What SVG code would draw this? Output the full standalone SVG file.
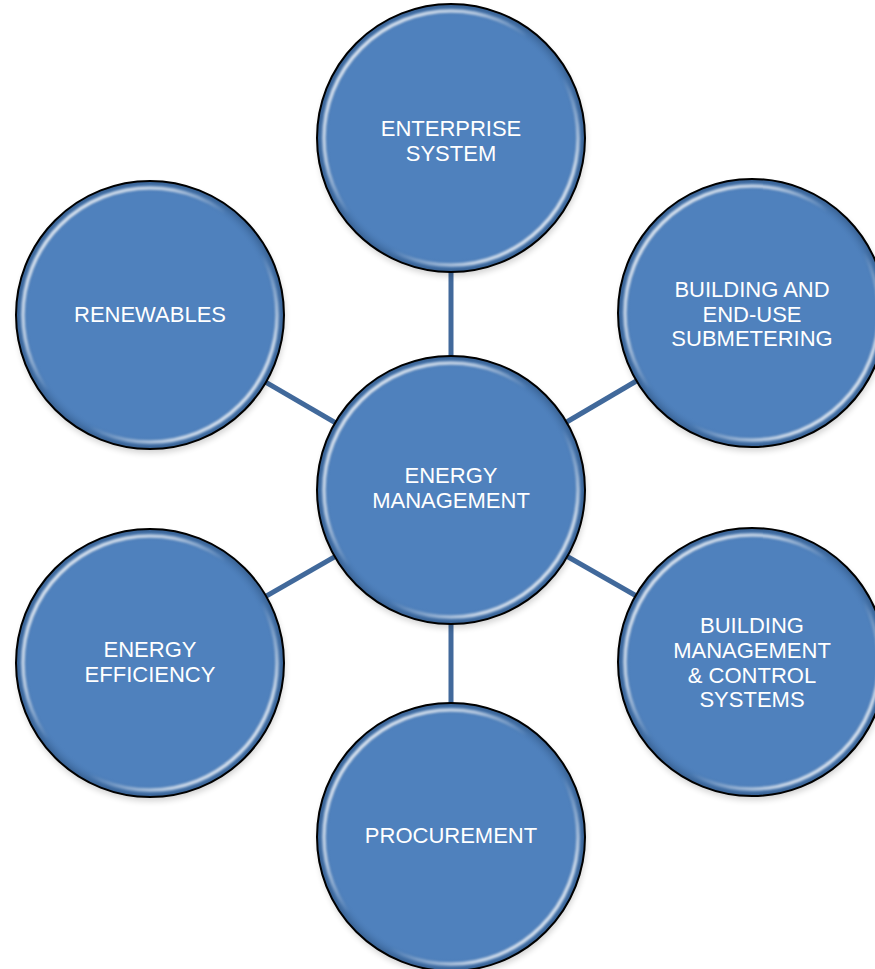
<svg xmlns="http://www.w3.org/2000/svg" width="875" height="969" viewBox="0 0 875 969">
<defs>
<linearGradient id="hl" x1="0" y1="0" x2="1" y2="1">
<stop offset="0" stop-color="#ffffff" stop-opacity="0.95"/>
<stop offset="0.3" stop-color="#ffffff" stop-opacity="0.6"/>
<stop offset="0.45" stop-color="#ffffff" stop-opacity="0"/>
<stop offset="0.6" stop-color="#ffffff" stop-opacity="0"/>
<stop offset="0.8" stop-color="#ffffff" stop-opacity="0.7"/>
<stop offset="1" stop-color="#ffffff" stop-opacity="0.95"/>
</linearGradient>
<radialGradient id="edge" cx="0.5" cy="0.5" r="0.5">
<stop offset="0.9" stop-color="#4f81bd" stop-opacity="0"/>
<stop offset="1" stop-color="#1f3f66" stop-opacity="0.55"/>
</radialGradient>
<filter id="soft" x="-10%" y="-10%" width="120%" height="120%">
<feGaussianBlur stdDeviation="1.3"/>
</filter>
<filter id="shadow" x="-10%" y="-10%" width="120%" height="125%">
<feGaussianBlur stdDeviation="3"/>
</filter>
</defs>
<style>
.conn{stroke:#41699b;stroke-width:5;fill:none}
.sh{fill:#000;opacity:0.18}
.body{fill:#4f81bd}
.edge{fill:url(#edge)}
.hl{fill:none;stroke:url(#hl);stroke-width:3.5}
.ring{fill:none;stroke:#000;stroke-width:2}
.lbl{font-family:"Liberation Sans",Arial,sans-serif;font-size:22px;fill:#ffffff;text-anchor:middle}
</style>
<rect width="875" height="969" fill="#ffffff"/>
<g id="connectors">
<line class="conn" x1="451" y1="490" x2="451" y2="138"/>
<line class="conn" x1="451" y1="490" x2="752" y2="313"/>
<line class="conn" x1="451" y1="490" x2="752" y2="662"/>
<line class="conn" x1="451" y1="490" x2="451" y2="837"/>
<line class="conn" x1="451" y1="490" x2="150" y2="663"/>
<line class="conn" x1="451" y1="490" x2="150" y2="315"/>
</g>
<g id="node-enterprise" transform="translate(451,138)">
<circle class="sh" cx="1" cy="4" r="134" filter="url(#shadow)"/>
<circle class="body" r="134"/>
<circle class="edge" r="134"/>
<circle class="hl" r="127" filter="url(#soft)"/>
<circle class="ring" r="134"/>
<text class="lbl" y="136" transform="translate(0,-138)"><tspan x="0" y="136">ENTERPRISE</tspan><tspan x="0" y="161">SYSTEM</tspan></text>
</g>
<g id="node-submetering" transform="translate(752,313)">
<circle class="sh" cx="1" cy="4" r="134" filter="url(#shadow)"/>
<circle class="body" r="134"/>
<circle class="edge" r="134"/>
<circle class="hl" r="127" filter="url(#soft)"/>
<circle class="ring" r="134"/>
<text class="lbl"><tspan x="0" y="-16">BUILDING AND</tspan><tspan x="0" y="9">END-USE</tspan><tspan x="0" y="33">SUBMETERING</tspan></text>
</g>
<g id="node-bms" transform="translate(752,662)">
<circle class="sh" cx="1" cy="4" r="134" filter="url(#shadow)"/>
<circle class="body" r="134"/>
<circle class="edge" r="134"/>
<circle class="hl" r="127" filter="url(#soft)"/>
<circle class="ring" r="134"/>
<text class="lbl"><tspan x="0" y="-29">BUILDING</tspan><tspan x="0" y="-4">MANAGEMENT</tspan><tspan x="0" y="21">&amp; CONTROL</tspan><tspan x="0" y="45">SYSTEMS</tspan></text>
</g>
<g id="node-procurement" transform="translate(451,837)">
<circle class="sh" cx="1" cy="4" r="134" filter="url(#shadow)"/>
<circle class="body" r="134"/>
<circle class="edge" r="134"/>
<circle class="hl" r="127" filter="url(#soft)"/>
<circle class="ring" r="134"/>
<text class="lbl"><tspan x="0" y="6">PROCUREMENT</tspan></text>
</g>
<g id="node-efficiency" transform="translate(150,663)">
<circle class="sh" cx="1" cy="4" r="134" filter="url(#shadow)"/>
<circle class="body" r="134"/>
<circle class="edge" r="134"/>
<circle class="hl" r="127" filter="url(#soft)"/>
<circle class="ring" r="134"/>
<text class="lbl"><tspan x="0" y="-6">ENERGY</tspan><tspan x="0" y="19">EFFICIENCY</tspan></text>
</g>
<g id="node-renewables" transform="translate(150,315)">
<circle class="sh" cx="1" cy="4" r="134" filter="url(#shadow)"/>
<circle class="body" r="134"/>
<circle class="edge" r="134"/>
<circle class="hl" r="127" filter="url(#soft)"/>
<circle class="ring" r="134"/>
<text class="lbl"><tspan x="0" y="7">RENEWABLES</tspan></text>
</g>
<g id="node-energy-management" transform="translate(451,490)">
<circle class="sh" cx="1" cy="4" r="134" filter="url(#shadow)"/>
<circle class="body" r="134"/>
<circle class="edge" r="134"/>
<circle class="hl" r="127" filter="url(#soft)"/>
<circle class="ring" r="134"/>
<text class="lbl"><tspan x="0" y="-7">ENERGY</tspan><tspan x="0" y="18">MANAGEMENT</tspan></text>
</g>
</svg>
